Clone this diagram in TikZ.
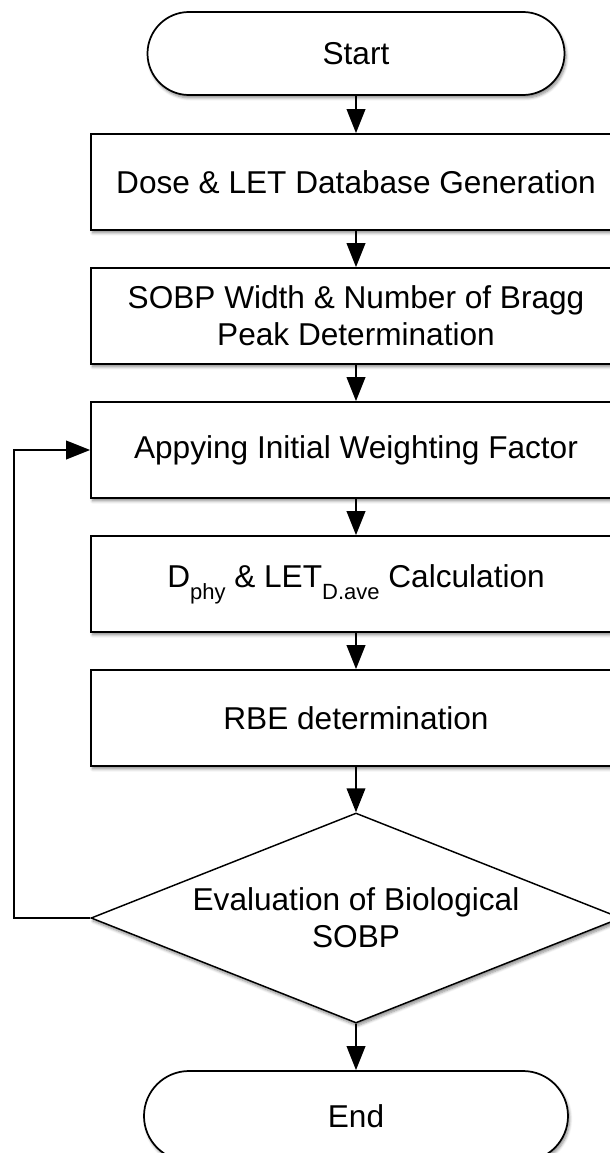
\documentclass[tikz,border=0pt]{standalone}
\usepackage{fontspec}
\setmainfont{Liberation Sans}
\usetikzlibrary{shapes.geometric,shapes.misc,arrows.meta,shadows.blur}

\newcommand{\lowsub}[1]{\raisebox{-9pt}{\fontsize{16.5}{18}\selectfont #1}}

\tikzset{
  flowtext/.style={font=\fontsize{23.7}{28}\selectfont, align=center, inner sep=0pt},
  boxshadow/.style={blur shadow={shadow xshift=1.2pt, shadow yshift=-2.2pt, shadow blur steps=6, shadow opacity=45}},
  terminal/.style={flowtext, rounded rectangle, draw, line width=1.3pt, fill=white, boxshadow},
  procbox/.style={flowtext, rectangle, draw, line width=1.3pt, fill=white, minimum width=397.5pt, minimum height=72pt, boxshadow},
  decision/.style={flowtext, diamond, aspect=2.52, draw, line width=1.1pt, fill=white, minimum width=397.5pt, minimum height=157.5pt, boxshadow},
  flowarrow/.style={line width=1.2pt, -{Triangle[length=18pt, width=14pt]}}
}

\begin{document}
\begin{tikzpicture}[x=0.75pt,y=0.75pt,yscale=-1,xscale=1]
\useasboundingbox (0,0) rectangle (610,1153);
\clip (0,0) rectangle (610,1153);

% Terminals
\node [terminal, minimum width=312.75pt, minimum height=62.25pt] (start) at (356,53.5) {Start};
\node [terminal, minimum width=318pt, minimum height=67.5pt] (finish) at (356,1116) {End};

% Process boxes
\node [procbox] (database) at (356,182) {Dose \& LET Database Generation};
\node [procbox] (sobpwidth) at (356,316) {SOBP Width \& Number of Bragg\\Peak Determination};
\node [procbox] (weighting) at (356,450) {Appying Initial Weighting Factor};
\node [procbox] (dphys) at (356,584) {D\lowsub{phy} \& LET\lowsub{D.ave} Calculation};
\node [procbox] (rbe) at (356,718) {RBE determination};

% Decision
\node [decision] (evaluation) at (356,918) {Evaluation of Biological\\SOBP};

% Connectors
\draw [flowarrow] (start) -- (database);
\draw [flowarrow] (database) -- (sobpwidth);
\draw [flowarrow] (sobpwidth) -- (weighting);
\draw [flowarrow] (weighting) -- (dphys);
\draw [flowarrow] (dphys) -- (rbe);
\draw [flowarrow] (rbe) -- (evaluation);
\draw [flowarrow] (evaluation) -- (finish);
% loop back
\draw [flowarrow] (evaluation.west) -- ++(-76,0) |- (weighting.west);
\end{tikzpicture}
\end{document}
